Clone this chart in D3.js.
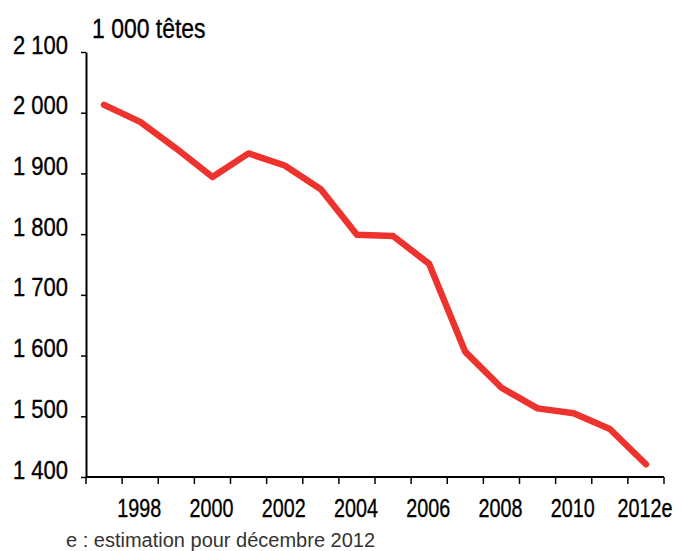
<!DOCTYPE html>
<html>
<head>
<meta charset="utf-8">
<script src="https://cdn.jsdelivr.net/npm/d3@7"></script>
<style>
  html, body { margin: 0; padding: 0; background: #fff; }
  svg { display: block; }
  text { font-family: "Liberation Sans", Arial, sans-serif; }
</style>
</head>
<body>
<svg id="chart" width="682" height="551"></svg>
<script>
const years = ["1997","1998","1999","2000","2001","2002","2003","2004","2005","2006","2007","2008","2009","2010","2011","2012"];
const values = [2013, 1985, 1941, 1894, 1933, 1913, 1874, 1799, 1797, 1751, 1606, 1547, 1513, 1505, 1479, 1421];
const xTickLabels = ["", "1998", "", "2000", "", "2002", "", "2004", "", "2006", "", "2008", "", "2010", "", "2012e"];
const yTicks = [1400, 1500, 1600, 1700, 1800, 1900, 2000, 2100];
const unitLabel = "1 000 têtes";
const footnote = "e : estimation pour décembre 2012";

const margin = {left: 86, top: 52};
const W = 578, H = 425;

const svg = d3.select("#chart");
const g = svg.append("g").attr("transform", `translate(${margin.left},${margin.top})`);

const x = d3.scaleBand().domain(years).range([0, W]).padding(0);
const y = d3.scaleLinear().domain([1400, 2100]).range([H, 0]);

// Y axis
const yAxis = g.append("g")
  .call(d3.axisLeft(y).tickValues(yTicks).tickSize(5).tickSizeOuter(0)
    .tickFormat(d => d3.format(",")(d).replace(",", " ")));
yAxis.select(".domain").attr("stroke", "#000").attr("stroke-width", 2);
yAxis.selectAll(".tick line").attr("stroke", "#000").attr("stroke-width", 1.5);
yAxis.selectAll(".tick text")
  .attr("font-size", 25)
  .attr("fill", "#000")
  .attr("stroke", "#000")
  .attr("stroke-width", 0.35)
  .attr("x", -18 / 0.88)
  .attr("y", 1)
  .attr("dy", 0)
  .attr("transform", "scale(0.88,1)")
  .style("font-family", "'Liberation Sans', Arial, sans-serif");

// X axis line
const xAxisG = g.append("g").attr("transform", `translate(0,${H})`);
xAxisG.append("line").attr("x1", 0).attr("x2", W).attr("y1", 0).attr("y2", 0)
  .attr("stroke", "#000").attr("stroke-width", 2);
const boundaries = years.map(d => x(d)).concat([x(years[years.length-1]) + x.bandwidth()]);
xAxisG.selectAll("line.tk").data(boundaries).enter().append("line").attr("class", "tk")
  .attr("x1", d => d).attr("x2", d => d).attr("y1", 0).attr("y2", 7)
  .attr("stroke", "#000").attr("stroke-width", 1.5);
xAxisG.selectAll("g.lbl").data(years).enter().append("g").attr("class", "lbl")
  .attr("transform", d => `translate(${x(d) + x.bandwidth()/2 - 1},40)`)
  .append("text")
  .attr("text-anchor", "middle")
  .attr("font-size", 25)
  .attr("fill", "#000")
  .attr("stroke", "#000")
  .attr("stroke-width", 0.35)
  .attr("transform", "scale(0.79,1)")
  .text((d, i) => xTickLabels[i]);

// Line
const line = d3.line()
  .x((d, i) => x(years[i]) + x.bandwidth()/2)
  .y(d => y(d));
g.append("path").datum(values)
  .attr("d", line)
  .attr("fill", "none")
  .attr("stroke", "#ee332e")
  .attr("stroke-width", 6.5)
  .attr("stroke-linejoin", "round")
  .attr("stroke-linecap", "round");

// Unit label
svg.append("g").attr("transform", "translate(92,38)")
  .append("text")
  .attr("font-size", 27)
  .attr("fill", "#000")
  .attr("stroke", "#000")
  .attr("stroke-width", 0.35)
  .attr("transform", "scale(0.85,1)")
  .text(unitLabel);

// Footnote
svg.append("text")
  .attr("x", 66).attr("y", 547)
  .attr("font-size", 20)
  .attr("fill", "#333")
  .text(footnote);
</script>
</body>
</html>
